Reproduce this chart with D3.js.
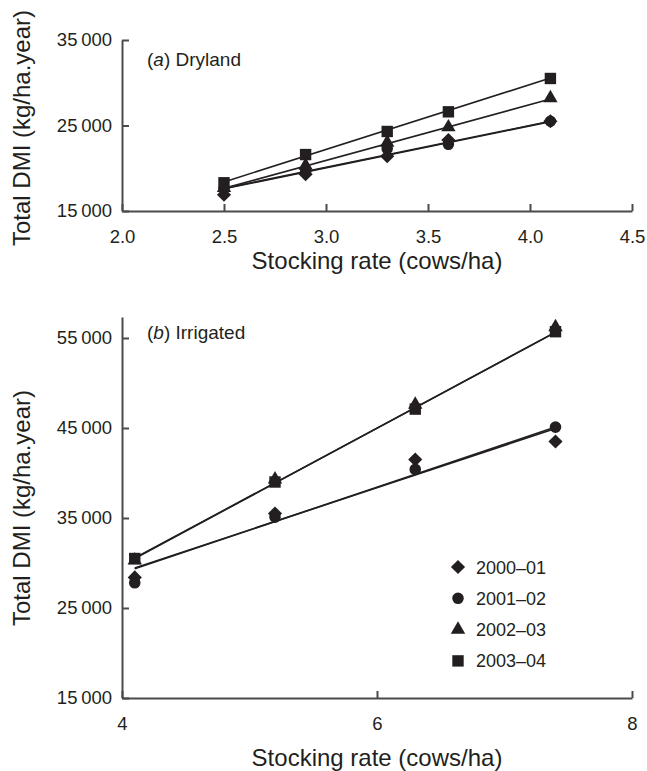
<!DOCTYPE html>
<html>
<head>
<meta charset="utf-8">
<script src="https://cdn.jsdelivr.net/npm/d3@7"></script>
<style>
  body { margin: 0; background: #fff; }
  svg { display: block; font-family: "Liberation Sans", Arial, sans-serif; }
  .axis path, .axis line { stroke: #4a4a4a; stroke-width: 2; }
  .axis text { font-size: 18.5px; fill: #231f20; }
</style>
</head>
<body>
<svg id="chart" width="647" height="771"></svg>
<script>
// series names and legend order
const seasons = ["2000–01", "2001–02", "2002–03", "2003–04"];
const shapes = ["diamond", "circle", "triangle", "square"];

// (a) Dryland
const dryRates = [2.5, 2.9, 3.3, 3.6, 4.1];
const dryDMI = [
  [16900, 19300, 21400, 23300, 25500],
  [17600, 19600, 22300, 22800, 25500],
  [17700, 20300, 23000, 24800, 28200],
  [18300, 21600, 24300, 26600, 30500]
];
// fitted lines, value at first and last stocking rate
const dryFitStart = [17600, 17650, 17650, 18400];
const dryFitEnd = [25450, 25500, 28100, 30550];

// (b) Irrigated
const irrRates = [4.1, 5.2, 6.3, 7.4];
const irrDMI = [
  [28400, 35500, 41500, 43500],
  [27800, 35100, 40400, 45100],
  [30300, 39300, 47600, 56200],
  [30500, 39000, 47100, 55700]
];
const irrFitStart = [29450, 29350, 30500, 30550];
const irrFitEnd = [44950, 45100, 55650, 55620];

const dryXTicks = [2.0, 2.5, 3.0, 3.5, 4.0, 4.5];
const dryYTicks = [15000, 25000, 35000];
const irrXTicks = [4, 6, 8];
const irrYTicks = [15000, 25000, 35000, 45000, 55000];

const ink = "#231f20";
const svg = d3.select("#chart");

const fmtThousands = d => d3.format(",")(d).replace(",", "\u2009");

const symbolOf = {
  diamond: d3.symbol(d3.symbolSquare, 100),
  circle: d3.symbol(d3.symbolCircle, 105),
  triangle: d3.symbol(d3.symbolTriangle, 90),
  square: d3.symbol(d3.symbolSquare, 130)
};

function marker(g, shape, x, y) {
  g.append("path")
    .attr("d", symbolOf[shape]())
    .attr("fill", ink)
    .attr("transform", "translate(" + x + "," + y + ")" + (shape == "diamond" ? " rotate(45)" : ""));
}

function panel(opts) {
  const x = d3.scaleLinear().domain(opts.xDomain).range([122, 632]);
  const y = d3.scaleLinear().domain(opts.yDomain).range(opts.yRange);
  const g = svg.append("g");

  g.append("g")
    .attr("class", "axis")
    .attr("transform", "translate(0," + y(opts.yDomain[0]) + ")")
    .call(d3.axisBottom(x).tickValues(opts.xTicks).tickFormat(opts.xFormat)
      .tickSizeInner(-7).tickSizeOuter(0).tickPadding(19));

  g.append("g")
    .attr("class", "axis")
    .attr("transform", "translate(" + x(opts.xDomain[0]) + ",0)")
    .call(d3.axisLeft(y).tickValues(opts.yTicks).tickFormat(fmtThousands)
      .tickSizeInner(-7).tickSizeOuter(0).tickPadding(10));

  // fitted lines
  opts.fitStart.forEach((v, i) => {
    g.append("line")
      .attr("x1", x(opts.rates[0]))
      .attr("y1", y(v))
      .attr("x2", x(opts.rates[opts.rates.length - 1]))
      .attr("y2", y(opts.fitEnd[i]))
      .attr("stroke", ink)
      .attr("stroke-width", 1.6);
  });

  // points
  opts.values.forEach((series, i) => {
    series.forEach((v, j) => marker(g, shapes[i], x(opts.rates[j]), y(v)));
  });

  g.append("text")
    .attr("x", 147)
    .attr("y", opts.labelY)
    .attr("font-size", 19)
    .attr("fill", ink)
    .html("(<tspan font-style='italic'>" + opts.letter + "</tspan>) " + opts.name);

  g.append("text")
    .attr("x", 377)
    .attr("y", opts.xTitleY)
    .attr("text-anchor", "middle")
    .attr("font-size", 24)
    .attr("fill", ink)
    .text("Stocking rate (cows/ha)");

  g.append("text")
    .attr("transform", "translate(30," + opts.yTitleMid + ") rotate(-90)")
    .attr("text-anchor", "middle")
    .attr("font-size", 24)
    .attr("fill", ink)
    .text("Total DMI (kg/ha.year)");

  return {g: g, x: x, y: y};
}

panel({
  xDomain: [2.0, 4.5], yDomain: [15000, 35000], yRange: [211, 40],
  xTicks: dryXTicks, yTicks: dryYTicks, xFormat: d3.format(".1f"),
  rates: dryRates, values: dryDMI, fitStart: dryFitStart, fitEnd: dryFitEnd,
  letter: "a", name: "Dryland", labelY: 66, xTitleY: 269, yTitleMid: 128
});

panel({
  xDomain: [4, 8], yDomain: [15000, 57333], yRange: [698, 317],
  xTicks: irrXTicks, yTicks: irrYTicks, xFormat: d3.format("d"),
  rates: irrRates, values: irrDMI, fitStart: irrFitStart, fitEnd: irrFitEnd,
  letter: "b", name: "Irrigated", labelY: 339, xTitleY: 766, yTitleMid: 508
});

// legend
const legend = svg.append("g").attr("transform", "translate(458,567)");
seasons.forEach((s, i) => {
  marker(legend, shapes[i], 0, i * 31.3);
  legend.append("text")
    .attr("x", 18)
    .attr("y", i * 31.3 + 6.5)
    .attr("font-size", 18)
    .attr("fill", ink)
    .text(s);
});
</script>
</body>
</html>
